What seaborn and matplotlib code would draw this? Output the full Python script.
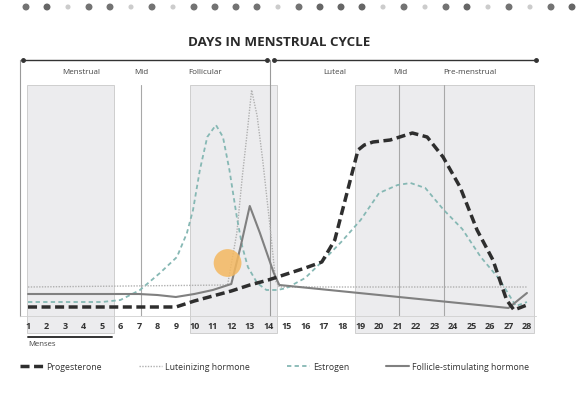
import numpy as np
import matplotlib
matplotlib.use("Agg")
import matplotlib.pyplot as plt
from matplotlib.patches import Rectangle
import seaborn as sns


# hormone levels (arbitrary units above the baseline)
prog_days = [1, 9, 10, 11, 12, 13, 14, 15, 16, 16.9, 17.6, 18.26, 18.86, 19.2, 19.67, 20.6, 21.8, 22.6, 23.46, 24.38, 25.3, 26.16, 26.9, 27.3, 28]
prog_level = [9, 9, 15, 20, 25, 31, 36, 42, 48, 54, 76, 123, 166, 171, 174, 176, 183, 179, 159, 129, 86, 56, 16, 6, 11]

lh_days = [1, 11.8, 12.3, 12.6, 12.9, 13.1, 13.4, 13.7, 14.1, 14.4, 14.6, 28]
lh_level = [29, 31, 83, 140, 190, 226, 200, 156, 89, 35, 29, 29]

est_days = [1, 5, 6, 7.06, 8.14, 9.06, 9.6, 9.93, 10.3, 10.7, 11.17, 11.55, 11.9, 12.3, 12.6, 12.9, 13.4, 13.9,
            14.5, 15, 16, 17, 18, 19, 20, 21, 21.7, 22.5, 23.5, 24.5, 25.5, 26.5, 27, 27.4, 28]
est_level = [14, 14, 16, 26, 43, 59, 83, 106, 146, 179, 191, 179, 146, 99, 69, 49, 33, 26,
             26, 28, 38, 56, 75, 96, 123, 131, 133, 128, 106, 87, 59, 37, 22, 10, 14]

fsh_days = [1, 7, 8, 9, 10, 11, 12, 12.5, 13, 13.55, 14.3, 14.6, 27, 28]
fsh_level = [22, 22, 21, 19, 22, 26, 32, 69, 110, 83, 43, 31, 8, 23]

highlight_day = [11.8]
highlight_level = [53]

days = list(range(1, 29))

phase_names = ["Menstrual", "Mid", "Follicular", "Luteal", "Mid", "Pre-menstrual"]
phase_pos = [3.87, 7.11, 10.58, 17.61, 21.13, 24.92]

# shaded phase boxes (start day, end day)
boxes = [(0.95, 5.65), (9.77, 14.47), (18.7, 28.4)]

dot_shades = [0.45, 0.4, 0.8, 0.45, 0.45, 0.8, 0.45, 0.8, 0.45, 0.45, 0.45, 0.45, 0.8, 0.45,
              0.4, 0.4, 0.4, 0.8, 0.45, 0.8, 0.45, 0.4, 0.8, 0.45, 0.8, 0.45, 0.4]


sns.set_theme(style="white")
plt.rcParams['font.family'] = ['Open Sans', 'DejaVu Sans']

fig = plt.figure(figsize=(5.81, 4.04), dpi=100)
ax = fig.add_axes([20 / 581, 88 / 404, 516 / 581, 256 / 404])
ax.set_xlim(0.567, 28.49)
ax.set_ylim(0, 256)

# phase boxes and separators
for x0, x1 in boxes:
    ax.add_patch(Rectangle((x0, -17), x1 - x0, 248, facecolor='#ececee',
                           edgecolor='#c8c8c8', lw=0.6, clip_on=False, zorder=0))
for d in [7.1, 21.05, 23.5]:
    ax.plot([d, d], [0, 231], color='#a8a8a8', lw=0.8, zorder=1)
ax.plot([14.1, 14.1], [0, 256], color='#9a9a9a', lw=0.8, zorder=1, clip_on=False)

# top arrows
ax.plot([0.73, 13.93], [256, 256], color='#333333', lw=1.0, marker='o', ms=2.5, clip_on=False)
ax.plot([14.31, 28.49], [256, 256], color='#333333', lw=1.0, marker='o', ms=2.5, clip_on=False)

for name, pos in zip(phase_names, phase_pos):
    ax.text(pos, 243, name, ha='center', va='center', fontsize=5.8, color='#444444')

# hormone curves
sns.lineplot(x=prog_days, y=prog_level, ax=ax, color='#2e2e2e', lw=2.5,
             linestyle=(0, (2.6, 1.3)), label='Progesterone', zorder=4)
sns.lineplot(x=lh_days, y=lh_level, ax=ax, color='#b0b0b0', lw=1.0,
             linestyle=(0, (1, 1)), label='Luteinizing hormone', zorder=3)
sns.lineplot(x=est_days, y=est_level, ax=ax, color='#86b8b4', lw=1.3,
             linestyle=(0, (2.4, 1.8)), label='Estrogen', zorder=3)
sns.lineplot(x=fsh_days, y=fsh_level, ax=ax, color='#808080', lw=1.5,
             label='Follicle-stimulating hormone', zorder=3)
sns.scatterplot(x=highlight_day, y=highlight_level, ax=ax, s=400, color='#f4b860',
                alpha=0.85, edgecolor='none', zorder=5, legend=False)

# axis styling
ax.set_xticks(days)
ax.set_xticklabels([str(d) for d in days])
ax.set_yticks([])
ax.tick_params(axis='x', direction='in', length=3, width=0.6, color='#bbbbbb',
               pad=4, labelsize=6.5, labelcolor='#333333')
for s in ['top', 'right']:
    ax.spines[s].set_visible(False)
ax.spines['left'].set_color('#9a9a9a')
ax.spines['left'].set_linewidth(0.8)
ax.spines['bottom'].set_color('#d0d0d0')
ax.spines['bottom'].set_linewidth(0.6)
for lbl in ax.get_xticklabels():
    lbl.set_fontweight('bold')

# menses bar
ax.plot([1, 5.55], [-21, -21], color='#333333', lw=1.4, clip_on=False)
ax.text(1, -29, 'Menses', ha='left', va='center', fontsize=5.6, color='#444444')

fig.text(279 / 581, 1 - 43 / 404, 'DAYS IN MENSTRUAL CYCLE', ha='center', va='center',
         fontsize=9.6, fontweight='bold', color='#2a2a2a')

handles, labels = ax.get_legend_handles_labels()
ax.get_legend().remove()
fig.legend(handles, labels, loc='center left', bbox_to_anchor=(20 / 581, 1 - 367 / 404),
           ncol=4, frameon=False, fontsize=6.3, handlelength=2.7, handletextpad=0.3,
           columnspacing=4.2, borderpad=0, borderaxespad=0, labelcolor='#333333')

# decorative dot row
deco = fig.add_axes([0, 1 - 14 / 404, 1, 14 / 404])
deco.set_xlim(0, 581)
deco.set_ylim(0, 1)
deco.axis('off')
deco.scatter(26 + 21 * np.arange(len(dot_shades)), [0.5] * len(dot_shades),
             s=[16 if g < 0.6 else 7 for g in dot_shades],
             c=[str(g) for g in dot_shades])

fig.savefig('out.png', dpi=100)
